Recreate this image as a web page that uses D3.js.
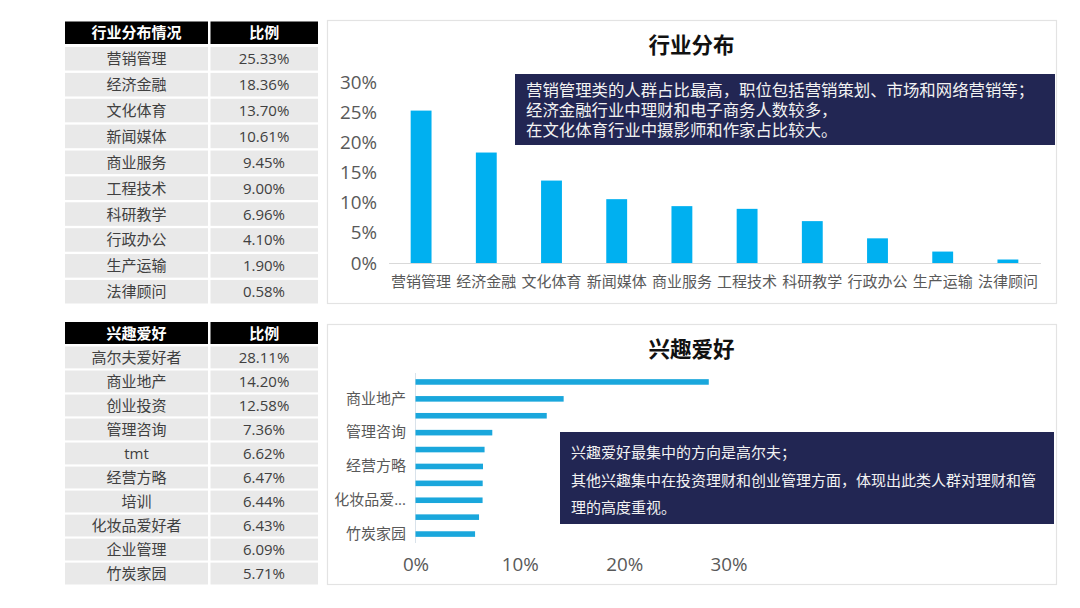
<!DOCTYPE html>
<html>
<head>
<meta charset="utf-8">
<script src="https://cdn.jsdelivr.net/npm/d3@7"></script>
<style>
  html, body { margin: 0; padding: 0; background: #fff; }
  text { font-family: "Open Sans", "Noto Sans CJK SC", sans-serif; }
</style>
</head>
<body>
<div class="canva"></div>
<script>
// datos
const industryCats = ["营销管理","经济金融","文化体育","新闻媒体","商业服务","工程技术","科研教学","行政办公","生产运输","法律顾问"];
const industryVals = [25.33,18.36,13.70,10.61,9.45,9.00,6.96,4.10,1.90,0.58];
const hobbyCats = ["高尔夫爱好者","商业地产","创业投资","管理咨询","tmt","经营方略","培训","化妆品爱好者","企业管理","竹炭家园"];
const hobbyVals = [28.11,14.20,12.58,7.36,6.62,6.47,6.44,6.43,6.09,5.71];
const hobbyAxisLabels = ["商业地产","管理咨询","经营方略","化妆品爱...","竹炭家园"];
const industryTicks = [0,5,10,15,20,25,30];
const hobbyTicks = [0,10,20,30];
const note1 = ["营销管理类的人群占比最高，职位包括营销策划、市场和网络营销等；","经济金融行业中理财和电子商务人数较多，","在文化体育行业中摄影师和作家占比较大。"];
const note2 = ["兴趣爱好最集中的方向是高尔夫；","其他兴趣集中在投资理财和创业管理方面，体现出此类人群对理财和管","理的高度重视。"];

const svg = d3.select(".canva").append("svg").attr("width", 1080).attr("height", 608).style("display", "block");
const fmt = d => d.toFixed(2) + "%";
const textColor = "#595959";
const fontStack = '"Open Sans","Noto Sans CJK SC",sans-serif';

// tablas de la izquierda
function drawTable(title, cats, vals, top, headH, rowsTop, rowsBottom) {
  const y = d3.scaleBand().domain(cats).range([rowsTop, rowsBottom]).paddingInner(0.09);
  const g = svg.append("g");
  [[65, 208, title], [210.5, 318, "比例"]].forEach(c => {
    g.append("rect").attr("x", c[0]).attr("y", top).attr("width", c[1] - c[0]).attr("height", headH).attr("fill", "#000");
    g.append("text").attr("x", (c[0] + c[1]) / 2).attr("y", top + headH / 2 + 5.5).attr("text-anchor", "middle")
      .attr("font-size", 15).attr("font-weight", 700).attr("fill", "#fff").text(c[2]);
  });
  cats.forEach((c, i) => {
    g.append("rect").attr("x", 65).attr("y", y(c)).attr("width", 143).attr("height", y.bandwidth()).attr("fill", "#e9e9e9");
    g.append("rect").attr("x", 210.5).attr("y", y(c)).attr("width", 107.5).attr("height", y.bandwidth()).attr("fill", "#e9e9e9");
    g.append("text").attr("x", 136.5).attr("y", y(c) + y.bandwidth() / 2 + 5.5).attr("text-anchor", "middle")
      .attr("font-size", 15).attr("fill", "#404040").text(c);
    g.append("text").attr("x", 264).attr("y", y(c) + y.bandwidth() / 2 + 5.5).attr("text-anchor", "middle")
      .attr("font-size", 15).attr("fill", "#404040").text(fmt(vals[i]));
  });
}
drawTable("行业分布情况", industryCats, industryVals, 21.5, 22.5, 47, 303.5);
drawTable("兴趣爱好", hobbyCats, hobbyVals, 322, 22, 346.5, 584.5);

// paneles
function panel(y0, y1, title, titleY) {
  svg.append("rect").attr("x", 327.5).attr("y", y0).attr("width", 729).attr("height", y1 - y0)
    .attr("fill", "#fff").attr("stroke", "#e3e3e3").attr("stroke-width", 1.2);
  svg.append("text").attr("x", 691.5).attr("y", titleY).attr("text-anchor", "middle")
    .attr("font-size", 21.5).attr("font-weight", 700).attr("fill", "#111").text(title);
}
panel(20.5, 303.5, "行业分布", 53);
panel(324.5, 584.5, "兴趣爱好", 357);

// barras verticales
const x1 = d3.scaleBand().domain(industryCats).range([388.5, 1040.5]).paddingInner(0.68).paddingOuter(0.34);
const y1 = d3.scaleLinear().domain([0, 30]).range([263, 82.5]);
const axisB1 = svg.append("g").attr("transform", "translate(0,263)").call(d3.axisBottom(x1).tickSize(0).tickPadding(13));
axisB1.select(".domain").attr("stroke", "#d9d9d9").attr("stroke-width", 1.2);
axisB1.selectAll("text").attr("font-size", 15).attr("fill", textColor).style("font-family", fontStack);
const axisL1 = svg.append("g").attr("transform", "translate(377,0)")
  .call(d3.axisLeft(y1).tickValues(industryTicks).tickFormat(d => d + "%").tickSize(0).tickPadding(0));
axisL1.select(".domain").remove();
axisL1.selectAll("text").attr("font-size", 18.8).attr("fill", textColor).style("font-family", fontStack);
svg.append("g").selectAll("rect").data(industryVals).enter().append("rect")
  .attr("x", (d, i) => x1(industryCats[i]))
  .attr("y", d => y1(d))
  .attr("width", x1.bandwidth())
  .attr("height", d => 263 - y1(d))
  .attr("fill", "#00b0f0");

// barras horizontales
const x2 = d3.scaleLinear().domain([0, 30]).range([415.5, 728.5]);
const y2 = d3.scaleBand().domain(hobbyCats).range([373.5, 542.5]).paddingInner(0.67).paddingOuter(0.335);
svg.append("line").attr("x1", 415.5).attr("x2", 415.5).attr("y1", 373).attr("y2", 543).attr("stroke", "#d9e2ea").attr("stroke-width", 1);
svg.append("g").selectAll("rect").data(hobbyVals).enter().append("rect")
  .attr("x", x2(0))
  .attr("y", (d, i) => y2(hobbyCats[i]))
  .attr("width", d => x2(d) - x2(0))
  .attr("height", y2.bandwidth())
  .attr("fill", "#1aa7dc");
const axisL2 = svg.append("g").attr("transform", "translate(406,0)")
  .call(d3.axisLeft(y2).tickValues(hobbyCats.filter((d, i) => i % 2 == 1))
    .tickFormat(d => hobbyAxisLabels[(hobbyCats.indexOf(d) - 1) / 2]).tickSize(0).tickPadding(0));
axisL2.select(".domain").remove();
axisL2.selectAll("text").attr("font-size", 15).attr("fill", textColor).style("font-family", fontStack);
const axisB2 = svg.append("g").attr("transform", "translate(0,553)")
  .call(d3.axisBottom(x2).tickValues(hobbyTicks).tickFormat(d => d + "%").tickSize(0).tickPadding(5));
axisB2.select(".domain").remove();
axisB2.selectAll("text").attr("font-size", 18.8).attr("fill", textColor).style("font-family", fontStack);

// cuadros de texto
function note(x, y, w, h, lines, tx, ys, size) {
  svg.append("rect").attr("x", x).attr("y", y).attr("width", w).attr("height", h).attr("fill", "#222653");
  lines.forEach((l, i) => {
    svg.append("text").attr("x", tx).attr("y", ys[i]).attr("font-size", size).attr("fill", "#f2f2f2").text(l);
  });
}
note(515, 74, 540, 71, note1, 526, [96, 116, 136], 16.4);
note(560, 432, 494, 92, note2, 571, [458, 486, 513], 15);
</script>
</body>
</html>
